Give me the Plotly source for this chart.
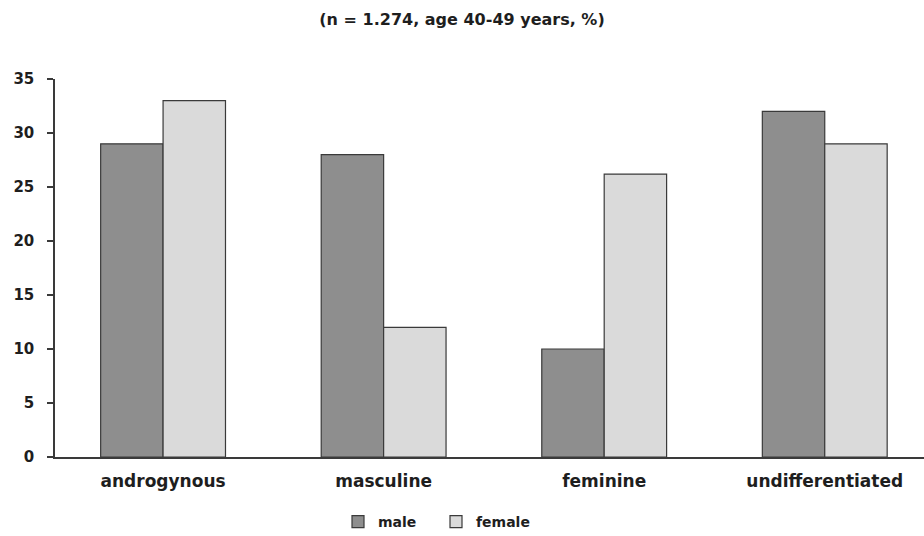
import plotly.graph_objects as go

categories = ["androgynous", "masculine", "feminine", "undifferentiated"]
male = [29, 28, 10, 32]
female = [33, 12, 26.2, 29]
y_ticks = [0, 5, 10, 15, 20, 25, 30, 35]

FONT = "DejaVu Sans, Liberation Sans, Arial, sans-serif"
TXT = "#1e1e1e"

fig = go.Figure()
fig.add_trace(go.Bar(x=categories, y=male, name="<b>male</b>",
                     marker=dict(color="#8e8e8e", line=dict(color="#3a3a3a", width=1.2))))
fig.add_trace(go.Bar(x=categories, y=female, name="<b>female</b>",
                     marker=dict(color="#dadada", line=dict(color="#3a3a3a", width=1.2))))

fig.update_layout(
    width=924, height=536,
    paper_bgcolor="white", plot_bgcolor="white",
    margin=dict(l=55, r=0, t=79, b=79, autoexpand=False),
    barmode="group", bargap=0.434, bargroupgap=0,
    font=dict(family=FONT, size=14, color=TXT),
    title=dict(text="<b>(n = 1.274, age 40-49 years, %)</b>", x=0.5, xref="container",
               xanchor="center", y=1 - 19 / 536, yref="container", yanchor="middle",
               font=dict(family=FONT, size=16, color=TXT)),
    showlegend=True,
    legend=dict(orientation="h", xref="container", yref="container", x=436 / 924, xanchor="center",
                y=14 / 536, yanchor="middle", entrywidth=53,
                font=dict(family=FONT, size=14, color=TXT), traceorder="normal"),
    xaxis=dict(range=[-0.49, 3.45], showline=True, linecolor="#3a3a3a", linewidth=1.5,
               ticks="", showgrid=False, zeroline=False, automargin=False,
               ticklabelstandoff=8,
               tickfont=dict(family=FONT, size=17, color=TXT),
               tickvals=categories, ticktext=["<b>%s</b>" % c for c in categories]),
    yaxis=dict(range=[0, 35], showline=True, linecolor="#3a3a3a", linewidth=1.5,
               ticks="outside", ticklen=6, tickwidth=1.5, tickcolor="#3a3a3a",
               tickvals=y_ticks, ticktext=["<b>%d</b>" % v for v in y_ticks],
               showgrid=False, zeroline=False, automargin=False, ticklabelstandoff=10,
               tickfont=dict(family=FONT, size=15, color=TXT)),
)

fig.write_html("out.html", config={"displayModeBar": False},
               post_script="document.body.style.margin='0';document.body.style.overflow='hidden';")
